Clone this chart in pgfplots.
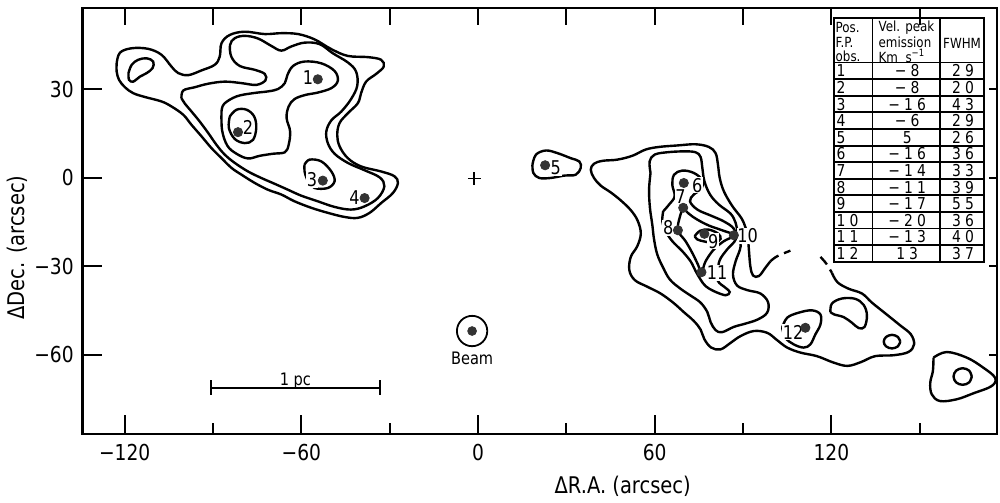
\documentclass[border=0pt]{standalone}
\usepackage{fontspec}
\setmainfont{DejaVu Sans}[FakeStretch=0.85]
\newfontfamily\tabfont{DejaVu Sans}[FakeStretch=0.85,LetterSpace=25]
\usepackage{pgfplots}
\pgfplotsset{compat=1.18}
\begin{document}
\begin{tikzpicture}
\pgfplotsset{cont/.style={black, line width=1.2pt, smooth, tension=0.6, mark=none}}
\begin{axis}[
 scale only axis, width=458pt, height=213.5pt,
 xmin=-134.24, xmax=176.27, ymin=-86.82, ymax=57.43,
 axis line style={line width=1.3pt},
 xtick={-120,-60,0,60,120}, xticklabels={−120,−60,0,60,120},
 minor xtick={-90,-30,30,90,150},
 ytick={-60,-30,0,30}, yticklabels={−60,−30,0,30},
 xtick pos=left, ytick pos=left,
 tick align=inside,
 major tick length=9.5pt, minor tick length=5.8pt,
 major tick style={black, line width=0.9pt},
 minor tick style={black, line width=0.9pt},
 xticklabel style={font=\fontsize{11}{13}\selectfont, yshift=-1.5pt},
 yticklabel style={font=\fontsize{11}{13}\selectfont, xshift=-1pt},
 xlabel={ΔR.A. (arcsec)}, ylabel={ΔDec. (arcsec)},
 xlabel style={at={(rel axis cs:0.5906,-0.1218)}, anchor=center, font=\fontsize{11.5}{13}\selectfont},
 ylabel style={at={(rel axis cs:-0.072,0.438)}, anchor=center, font=\fontsize{11.5}{13}\selectfont},
 clip=false,
]
% ---------- left cloud ----------
\addplot[cont] coordinates {(-118.7,35.4) (-117.6,38.2) (-115.4,39.9) (-112.5,40.4) (-110.3,39.3) (-110.5,37.1) (-112.5,35.4) (-114.8,34.2) (-117.1,32.5) (-118.5,33.1) (-118.7,35.4)};
\addplot[cont] coordinates {(-122.7,38.7) (-121.6,42.3) (-117.6,43.8) (-112.0,43.6) (-107.5,41.6) (-104.1,37.6) (-101.8,35.4) (-98.4,34.7) (-93.9,36.3) (-89.4,38.2) (-87.7,41.0) (-87.1,45.5) (-84.3,48.3) (-79.2,49.4) (-72.4,48.6) (-66.8,48.9) (-61.1,48.6) (-55.5,46.8) (-49.8,43.5) (-44.2,41.2) (-37.4,40.8) (-32.9,39.9) (-32.0,37.6) (-34.6,35.1) (-38.0,32.5) (-39.7,28.6) (-40.8,25.2) (-44.2,21.8) (-47.0,18.5) (-47.8,14.5) (-47.0,10.6) (-44.2,6.6) (-39.7,3.8) (-32.9,2.1) (-28.4,0.5) (-27.2,-1.8) (-28.9,-5.2) (-32.9,-8.6) (-36.8,-11.9) (-40.8,-13.6) (-45.3,-13.3) (-51.0,-11.9) (-56.6,-10.2) (-62.3,-8.0) (-66.8,-5.7) (-71.3,-4.1) (-75.8,-1.8) (-80.3,1.0) (-83.7,3.3) (-87.1,6.6) (-90.5,10.0) (-93.9,14.0) (-97.3,17.9) (-100.1,21.3) (-104.1,24.1) (-107.5,25.8) (-113.1,27.3) (-117.1,28.6) (-119.9,30.6) (-121.9,33.1) (-122.7,35.9) (-122.7,38.7)};
\addplot[cont] coordinates {(-100.7,26.9) (-100.1,29.5) (-96.2,30.6) (-91.6,31.8) (-86.0,32.5) (-80.3,32.0) (-75.3,31.4) (-72.2,32.9) (-72.4,35.1) (-75.8,36.5) (-80.9,37.8) (-83.7,40.8) (-84.2,44.9) (-82.6,47.2) (-79.2,48.0) (-74.7,47.1) (-70.2,44.6) (-66.8,43.0) (-63.4,44.4) (-58.9,45.7) (-53.8,45.2) (-49.3,42.1) (-44.2,39.0) (-41.4,35.9) (-41.0,31.1) (-43.1,26.6) (-46.4,22.4) (-49.8,19.4) (-51.5,15.7) (-51.0,11.7) (-48.7,8.1) (-44.2,5.0) (-38.5,2.5) (-33.4,0.1) (-31.8,-2.9) (-34.0,-6.9) (-38.5,-9.7) (-43.1,-10.8) (-48.7,-9.9) (-54.4,-8.0) (-60.0,-6.1) (-64.5,-4.1) (-69.0,-2.1) (-73.6,-0.1) (-78.1,2.1) (-82.6,5.0) (-86.0,7.8) (-88.8,11.1) (-91.6,15.1) (-94.5,19.0) (-97.3,22.4) (-99.5,25.0) (-100.7,26.9)};
\addplot[cont] coordinates {(-87.1,22.4) (-86.2,25.0) (-82.0,27.5) (-76.4,28.6) (-71.3,29.2) (-67.9,30.0) (-65.6,32.0) (-64.7,34.8) (-62.8,37.8) (-58.9,39.3) (-53.2,38.7) (-48.7,36.1) (-47.6,32.8) (-49.8,30.3) (-54.4,28.8) (-58.6,28.0) (-62.3,26.6) (-64.3,24.1) (-65.0,20.2) (-63.8,15.7) (-64.3,11.1) (-65.6,8.6) (-69.6,8.1) (-74.1,7.4) (-78.1,6.5) (-82.0,8.1) (-85.1,10.8) (-86.9,16.0) (-87.1,22.4)};
\addplot[cont] coordinates {(-84.3,20.7) (-82.0,23.0) (-78.6,23.0) (-76.0,20.7) (-75.3,16.8) (-76.4,12.8) (-79.2,11.7) (-82.6,13.1) (-84.6,16.8) (-84.3,20.7)};
\addplot[cont] coordinates {(-58.9,4.4) (-57.2,6.1) (-53.2,5.5) (-49.8,2.1) (-48.7,-1.2) (-51.0,-3.5) (-55.5,-3.5) (-57.7,-1.2) (-58.9,2.1) (-58.9,4.4)};
% ---------- point 5 ----------
\addplot[cont] coordinates {(18.5,4.4) (19.7,7.8) (23.1,9.2) (27.0,8.3) (31.5,6.6) (34.4,5.5) (34.9,3.3) (33.2,1.0) (29.3,0.7) (24.7,-0.1) (20.8,-0.1) (18.8,1.6) (18.5,4.4)};
% ---------- right cloud ----------
\addplot[cont] coordinates {(120.2,-32.2) (122.1,-35.4) (125.9,-37.6) (130.4,-39.2) (133.8,-42.3) (138.3,-45.9) (143.4,-50.0) (147.0,-53.0) (148.1,-56.4) (146.2,-59.0) (141.1,-60.1) (134.9,-60.4) (130.1,-62.4) (125.5,-63.7) (120.8,-62.6) (115.1,-60.4) (109.5,-59.2) (105.0,-57.5) (101.6,-55.0) (98.2,-52.5) (93.7,-51.9) (89.2,-53.6) (85.8,-55.9) (82.4,-58.1) (79.2,-57.5) (76.9,-54.7) (75.6,-51.4) (73.3,-48.5) (69.9,-45.5) (66.3,-42.3) (62.0,-39.2) (57.5,-36.9) (53.3,-34.7) (51.4,-31.3) (51.9,-26.8) (54.1,-23.2) (55.3,-18.9) (54.2,-14.5) (51.9,-11.0) (48.5,-7.7) (45.1,-5.0) (41.7,-2.7) (39.4,-0.1) (38.3,2.7) (39.4,4.7) (42.3,5.7) (47.3,6.1) (52.4,7.4) (56.9,9.5) (61.5,10.4) (67.7,10.9) (73.9,11.3) (78.4,10.4) (80.7,8.3) (81.5,4.4) (82.1,-0.1) (83.5,-4.6) (86.3,-9.5) (89.4,-13.6) (90.8,-16.7) (91.6,-19.8) (92.0,-24.3) (92.5,-30.0) (93.4,-33.1) (95.4,-33.3) (97.6,-30.5) (99.3,-28.3)};
\addplot[cont, dash pattern=on 5pt off 3pt] coordinates {(99.3,-28.3) (101.6,-26.6) (106.1,-24.7)};
\addplot[cont, dash pattern=on 5pt off 3pt] coordinates {(116.3,-26.8) (118.3,-29.1) (120.2,-32.2)};
\addplot[cont] coordinates {(58.6,1.6) (58.3,5.5) (60.0,7.8) (64.3,8.6) (69.9,8.9) (73.9,8.6) (75.6,7.0) (76.2,3.3) (76.9,-1.2) (78.8,-5.7) (81.8,-9.1) (85.8,-12.2) (87.5,-15.3) (88.2,-18.7) (89.2,-23.2) (87.5,-28.3) (86.6,-32.8) (88.0,-36.5) (91.6,-38.1) (95.9,-39.2) (98.5,-42.1) (98.2,-45.7) (95.0,-48.0) (90.8,-49.4) (86.9,-50.5) (82.9,-52.3) (80.7,-51.6) (79.0,-48.9) (77.9,-45.5) (75.6,-42.3) (72.2,-39.9) (68.8,-37.6) (65.2,-34.5) (62.9,-30.5) (60.9,-26.0) (59.8,-20.9) (59.2,-15.9) (58.4,-10.2) (58.1,-4.1) (58.6,1.6)};
\addplot[cont] coordinates {(62.9,-11.4) (64.9,-9.1) (66.8,-6.3) (66.0,-2.4) (66.6,1.0) (69.4,2.4) (73.3,1.6) (76.2,-0.9) (75.9,-3.8) (73.3,-5.7) (72.0,-8.0) (74.5,-10.8) (79.0,-12.8) (83.5,-14.8) (86.9,-17.3) (87.5,-20.9) (84.6,-24.3) (82.1,-27.9) (81.5,-31.6) (81.5,-35.0) (84.1,-37.3) (85.5,-38.7) (84.1,-39.8) (80.1,-38.4) (77.3,-36.7) (75.6,-34.5) (73.9,-31.6) (72.2,-28.3) (69.4,-24.9) (66.0,-21.5) (63.7,-18.1) (62.6,-14.8) (62.9,-11.4)};
\addplot[cont] coordinates {(69.7,-10.2) (68.6,-13.1) (67.9,-17.8) (70.5,-21.5) (72.8,-25.5) (74.7,-29.4) (75.9,-32.0) (77.3,-28.3) (80.1,-24.3) (83.5,-21.5) (86.9,-19.5) (82.9,-17.8) (78.4,-16.2) (74.5,-14.2) (71.6,-12.2) (69.7,-10.2)};
\addplot[cont] coordinates {(73.6,-19.8) (75.4,-18.0) (78.4,-17.6) (81.5,-18.9) (82.4,-20.7) (80.3,-22.1) (76.9,-21.6) (74.5,-20.9) (73.6,-19.8)};
% ---------- tail ----------
\addplot[cont] coordinates {(103.3,-50.8) (105.0,-47.4) (108.9,-45.7) (113.4,-44.9) (116.3,-46.3) (116.3,-49.7) (114.6,-53.0) (112.9,-56.4) (110.6,-57.5) (107.2,-56.4) (104.4,-54.2) (103.3,-50.8)};
\addplot[cont] coordinates {(119.7,-45.5) (120.2,-42.6) (123.6,-40.9) (128.1,-41.0) (131.0,-43.1) (132.1,-46.6) (131.3,-50.5) (129.3,-50.9) (127.0,-49.1) (124.2,-47.2) (121.0,-46.3) (119.7,-45.5)};
\addplot[cont] coordinates {(143.4,-55.5) (142.6,-53.9) (140.6,-53.2) (138.6,-53.9) (137.8,-55.5) (138.6,-57.1) (140.6,-57.8) (142.6,-57.1) (143.4,-55.5)};
\addplot[cont] coordinates {(154.7,-60.9) (159.2,-59.0) (166.0,-60.9) (171.6,-64.3) (175.6,-67.7) (174.5,-70.5) (168.2,-73.0) (162.6,-75.0) (156.9,-75.6) (154.1,-73.3) (153.6,-69.4) (154.5,-65.4) (154.7,-60.9)};
\addplot[cont] coordinates {(167.7,-67.3) (166.8,-65.3) (164.6,-64.5) (162.4,-65.3) (161.5,-67.3) (162.4,-69.3) (164.6,-70.1) (166.8,-69.3) (167.7,-67.3)};
% ---------- labels ----------
\begin{scope}[every node/.style={font=\fontsize{9.5}{10}\selectfont, inner sep=0.4pt, fill=white}]
\node at (axis cs:-57.7,34.0) {1};
\node at (axis cs:-78.1,17.0) {2};
\node at (axis cs:-56.4,-0.7) {3};
\node at (axis cs:-41.9,-6.9) {4};
\node at (axis cs:26.4,3.3) {5};
\node at (axis cs:74.5,-2.6) {6};
\node at (axis cs:68.8,-6.3) {7};
\node at (axis cs:64.6,-17.0) {8};
\node at (axis cs:79.9,-21.5) {9};
\node at (axis cs:91.6,-19.6) {10};
\node at (axis cs:81.2,-32.2) {11};
\node at (axis cs:107.0,-52.3) {12};
\end{scope}
% ---------- dots ----------
\addplot[only marks, mark=*, mark size=2.3pt, color=black!80] coordinates {(-54.4,33.3) (-81.5,15.4) (-52.7,-1.0) (-38.5,-6.9) (22.8,4.2) (69.9,-1.8) (69.7,-10.2) (67.9,-17.8) (76.9,-19.0) (86.9,-19.5) (75.9,-32.0) (111.2,-50.8)};
\addplot[only marks, mark=+, mark size=3.2pt, line width=0.8pt, black] coordinates {(-1.3,-0.3)};
% beam
\addplot[only marks, mark=o, mark size=7.6pt, line width=0.9pt, black] coordinates {(-2.0,-51.9)};
\addplot[only marks, mark=*, mark size=2.2pt, color=black!80] coordinates {(-2.0,-51.9)};
\node[font=\fontsize{8.6}{9}\selectfont] at (axis cs:-2.0,-61.3) {Beam};
% 1 pc bar
\addplot[black, line width=0.9pt, |-|, mark=none] coordinates {(-91.1,-71.1) (-33.1,-71.1)};
\node[font=\fontsize{8.6}{9}\selectfont, anchor=base] at (axis cs:-62.0,-70.4) {1 pc};
\end{axis}
% ---------- pixel-based decorations ----------
\begin{scope}[x=0.5pt,y=-0.5pt,shift={(-40.5pt,217.5pt)}]
\path (0,0) rectangle (1000,499);
% top ticks
\foreach \p in {123,211.5,300,388.5,477,565.5,654,742.5,831,919.5}{\draw[line width=0.9pt] (\p,8) -- (\p,25);}
% right ticks
\foreach \q in {89.2,178,266.8,355.6}{\draw[line width=0.9pt] (997,\q) -- (989,\q);}
% table
\draw[line width=0.9pt] (833.3,17.7) rectangle (984,262.3);
\draw[line width=0.9pt] (872.3,17.7) -- (872.3,262.3);
\draw[line width=0.9pt] (940,17.7) -- (940,262.3);
\foreach \r in {62.7,79.3,96.0,112.6,129.2,145.9,162.5,179.1,195.7,212.4,229.0,245.6}{\draw[line width=0.9pt] (833.3,\r) -- (984,\r);}
\begin{scope}[every node/.style={font=\fontsize{7}{8}\selectfont, inner sep=0pt}]
\node[anchor=west] at (835,28) {Pos.};
\node[anchor=west] at (835,42.5) {F.P.};
\node[anchor=west] at (835,56) {obs.};
\node[anchor=west] at (878,28) {Vel. peak};
\node[anchor=west] at (878,42.5) {emission};
\node[anchor=west] at (878,56) {Km\ \ s\textsuperscript{−1}};
\node at (962,43) {FWHM};
\end{scope}
\begin{scope}[every node/.style={font=\tabfont\fontsize{8.2}{9}\selectfont, inner sep=0pt}]
\foreach \y/\a/\b/\c in {71.0/1/−8/29, 87.6/2/−8/20, 104.3/3/−16/43, 120.9/4/−6/29, 137.5/5/5/26, 154.2/6/−16/36, 170.8/7/−14/33, 187.4/8/−11/39, 204.0/9/−17/55, 220.7/10/−20/36, 237.3/11/−13/40, 253.9/12/13/37}{
 \node[anchor=west] at (836,\y) {\a};
 \node at (907,\y) {\b};
 \node at (963,\y) {\c};
}
\end{scope}
\end{scope}
\end{tikzpicture}
\end{document}
